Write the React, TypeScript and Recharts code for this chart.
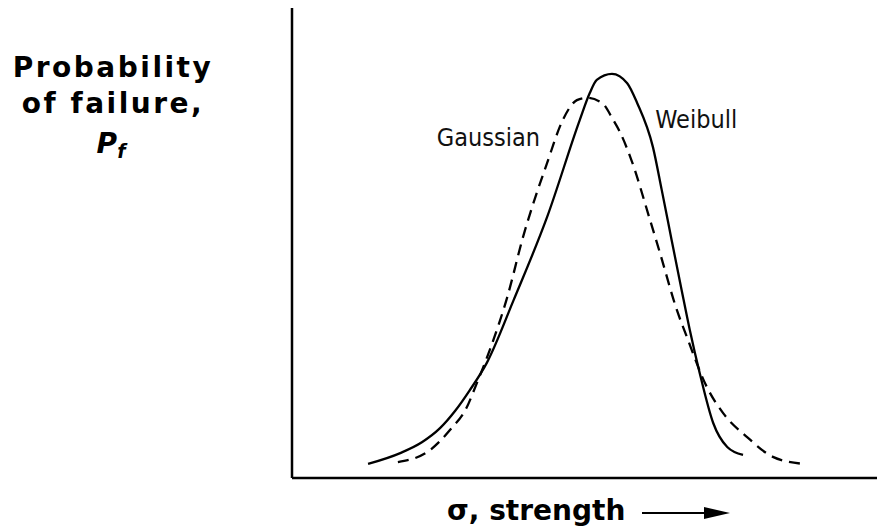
import { LineChart, Line, XAxis, YAxis, ReferenceDot, Label } from 'recharts';

// strength (arbitrary units) vs probability of failure (arbitrary units)
const weibullStrength = [13.0, 18.5, 22.2, 25.3, 27.9, 30.4, 33.3, 37.9, 43.6, 49.2, 50.9, 52.1, 54.7, 57.3, 59.0, 61.7, 63.2, 64.9, 66.6, 68.0, 69.7, 72.0, 74.4, 77.1];
const weibullPf = [3.0, 5.3, 7.6, 10.6, 14.3, 18.7, 24.5, 37.9, 55.5, 76.2, 81.9, 84.7, 86.0, 84.0, 79.8, 70.4, 61.3, 50.6, 40.0, 31.5, 22.3, 11.7, 6.6, 4.9];

const gaussStrength = [18.1, 23.1, 27.0, 29.9, 31.6, 33.8, 36.8, 39.5, 43.6, 46.3, 48.7, 50.4, 53.0, 54.9, 56.1, 58.0, 61.2, 62.9, 65.8, 67.5, 70.9, 73.7, 77.8, 82.2, 87.4];
const gaussPf = [3.4, 5.5, 10.2, 15.1, 20.2, 27.2, 38.5, 51.3, 67.0, 76.2, 80.4, 80.9, 79.8, 76.2, 73.5, 67.7, 54.9, 47.9, 35.7, 30.0, 19.4, 13.8, 8.7, 4.5, 3.0];

const weibull = weibullStrength.map((x, i) => ({ x, y: weibullPf[i] }));
const gaussian = gaussStrength.map((x, i) => ({ x, y: gaussPf[i] }));

const boldFont = '"DejaVu Sans", Verdana, sans-serif';
const plainFont = '"DejaVu Sans Condensed", "DejaVu Sans", sans-serif';

function YTitle({ viewBox }: any) {
  const cx = viewBox.x + 113;
  const top = viewBox.y;
  return (
    <g fontFamily={boldFont} fontWeight="bold" fontSize={28} fill="#000" textAnchor="middle">
      <text x={cx} y={top + 69} letterSpacing={2.5}>Probability</text>
      <text x={cx} y={top + 105} letterSpacing={2.5}>of failure,</text>
      <text x={cx - 2} y={top + 145} fontStyle="italic" fontSize={28}>
        P<tspan fontSize={19} dy={5}>f</tspan>
      </text>
    </g>
  );
}

function XTitle({ viewBox }: any) {
  const left = viewBox.x + 155;
  const base = viewBox.y + 42;
  return (
    <g>
      <text x={left} y={base} fontFamily={boldFont} fontWeight="bold" fontSize={28} fill="#000">
        σ, strength
      </text>
      <line x1={left + 195} y1={base - 7} x2={left + 265} y2={base - 7} stroke="#000" strokeWidth={2} />
      <polygon
        points={`${left + 257},${base - 13} ${left + 283},${base - 7} ${left + 257},${base - 1}`}
        fill="#000"
      />
    </g>
  );
}

export default function App() {
  return (
    <div style={{ position: 'absolute', left: 0, top: 0, background: '#fff' }}>
      <LineChart width={878} height={532} margin={{ top: 8, right: 1, left: 0, bottom: 0 }}>
        <XAxis
          type="number"
          dataKey="x"
          domain={[0, 100]}
          allowDataOverflow
          tick={false}
          tickLine={false}
          height={54}
          axisLine={{ stroke: '#000', strokeWidth: 2.5 }}
        >
          <Label content={<XTitle />} />
        </XAxis>
        <YAxis
          type="number"
          dataKey="y"
          domain={[0, 100]}
          allowDataOverflow
          tick={false}
          tickLine={false}
          width={292}
          axisLine={{ stroke: '#000', strokeWidth: 2.5 }}
        >
          <Label content={<YTitle />} />
        </YAxis>
        <Line
          data={gaussian}
          dataKey="y"
          type="monotone"
          stroke="#000"
          strokeWidth={2.3}
          strokeDasharray="11 7"
          dot={false}
          isAnimationActive={false}
        />
        <Line
          data={weibull}
          dataKey="y"
          type="monotone"
          stroke="#000"
          strokeWidth={2.3}
          dot={false}
          isAnimationActive={false}
        />
        <ReferenceDot x={42.4} y={70.6} r={0} fill="none" stroke="none">
          <Label
            position="center"
            content={({ viewBox }: any) => (
              <text x={viewBox.x} y={viewBox.y} textAnchor="end" fontFamily={plainFont} fontSize={25} fill="#111">
                Gaussian
              </text>
            )}
          />
        </ReferenceDot>
        <ReferenceDot x={62.1} y={74.5} r={0} fill="none" stroke="none">
          <Label
            position="center"
            content={({ viewBox }: any) => (
              <text x={viewBox.x} y={viewBox.y} textAnchor="start" fontFamily={plainFont} fontSize={25} fill="#111">
                Weibull
              </text>
            )}
          />
        </ReferenceDot>
      </LineChart>
    </div>
  );
}
